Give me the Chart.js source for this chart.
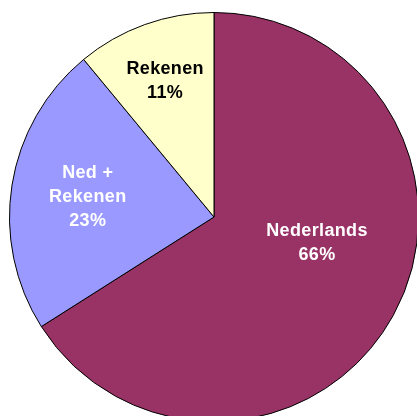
<!DOCTYPE html>
<html>
<head>
<meta charset="utf-8">
<script src="https://cdn.jsdelivr.net/npm/chart.js@4/dist/chart.umd.min.js"></script>
<style>
html,body{margin:0;padding:0;background:#fff;overflow:hidden;width:417px;height:416px;}
canvas{position:absolute;left:0;top:0;}
</style>
</head>
<body>
<canvas id="c" width="428" height="433"></canvas>
<script>
const categories = ["Nederlands", "Ned + Rekenen", "Rekenen"];
const labelLines = [["Nederlands"], ["Ned +", "Rekenen"], ["Rekenen"]];
const values = [66, 23, 11];
const percentLabels = ["66%", "23%", "11%"];
const colors = ["#993366", "#9999FF", "#FFFFCC"];
const textColors = ["#FFFFFF", "#FFFFFF", "#000000"];
// label placement: radial fraction and position within arc span
const labelRadial = [0.52, 0.625, 0.705];
const labelSpanPos = [0.439, 0.5, 0.5];

const labelPlugin = {
  id: 'sliceLabels',
  afterDatasetsDraw(chart) {
    const ctx = chart.ctx;
    const meta = chart.getDatasetMeta(0);
    ctx.save();
    ctx.font = 'bold 18px "Liberation Sans", Arial, sans-serif';
    if ('letterSpacing' in ctx) ctx.letterSpacing = '0.35px';
    ctx.textAlign = 'center';
    ctx.textBaseline = 'middle';
    const lh = 24;
    meta.data.forEach((arc, i) => {
      const p = arc.getProps(['x','y','startAngle','endAngle','outerRadius'], true);
      const a = p.startAngle + (p.endAngle - p.startAngle) * labelSpanPos[i];
      const r = p.outerRadius * labelRadial[i];
      const cx = p.x + Math.cos(a) * r;
      const cy = p.y + Math.sin(a) * r;
      const lines = labelLines[i].concat([percentLabels[i]]);
      const top = cy - (lines.length - 1) * lh / 2;
      ctx.fillStyle = textColors[i];
      lines.forEach((t, k) => ctx.fillText(t, cx, top + k * lh));
    });
    ctx.restore();
  }
};

new Chart(document.getElementById('c'), {
  type: 'pie',
  data: {
    labels: categories,
    datasets: [{
      data: values,
      backgroundColor: colors,
      borderColor: '#000000',
      borderWidth: 1,
      hoverOffset: 0
    }]
  },
  options: {
    responsive: false,
    devicePixelRatio: 1,
    animation: false,
    layout: { padding: { left: 9, right: 9, top: 11, bottom: 10 } },
    events: [],
    plugins: { legend: { display: false }, tooltip: { enabled: false } }
  },
  plugins: [labelPlugin]
});
</script>
</body>
</html>
